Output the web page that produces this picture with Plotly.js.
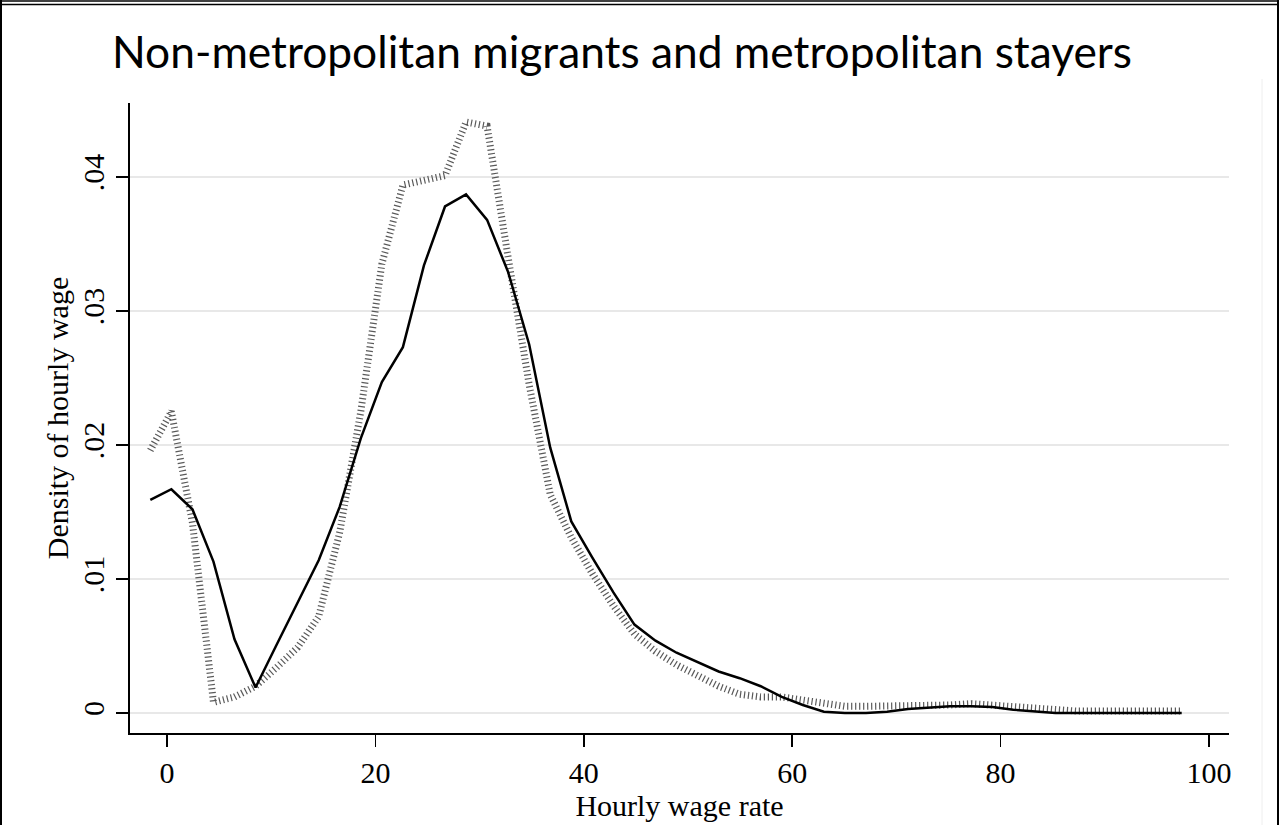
<!DOCTYPE html>
<html>
<head>
<meta charset="utf-8">
<script src="https://cdn.plot.ly/plotly-3.0.1.min.js"></script>
<style>
  html, body { margin: 0; padding: 0; background: #ffffff; }
  #chart { width: 1281px; height: 825px; }
</style>
</head>
<body>
<div id="chart"></div>
<script>
// Evaluation grid of hourly wage (kernel density points)
const wageGrid = [-1.60, 0.42, 2.44, 4.46, 6.48, 8.50, 10.52, 12.54, 14.56, 16.58,
  18.60, 20.62, 22.64, 24.66, 26.68, 28.70, 30.72, 32.74, 34.76, 36.78,
  38.80, 40.82, 42.84, 44.86, 46.88, 48.90, 50.92, 52.94, 54.96, 56.98,
  59.00, 61.02, 63.04, 65.06, 67.08, 69.10, 71.12, 73.14, 75.16, 77.18,
  79.20, 81.22, 83.24, 85.26, 87.28, 89.30, 91.32, 93.34, 95.36, 97.38];

// Solid black line
const densitySolid = [0.0159, 0.0167, 0.0152, 0.0113, 0.0055, 0.0019, 0.0051, 0.0083, 0.0114, 0.0154,
  0.0205, 0.0247, 0.0273, 0.0334, 0.0378, 0.0387, 0.0368, 0.0329, 0.0275, 0.0198,
  0.0143, 0.0116, 0.0090, 0.0066, 0.0054, 0.0045, 0.0038, 0.0031, 0.0026, 0.0020,
  0.0012, 0.0006, 0.0001, 0.0000, 0.0000, 0.0001, 0.0003, 0.0004, 0.0005, 0.0005,
  0.00045, 0.00025, 0.0001, 0.0000, 0.0000, 0.0000, 0.0000, 0.0000, 0.0000, 0.0000];

// Grey hatched line
const densityDotted = [0.0196, 0.0225, 0.0142, 0.0008, 0.0012, 0.0020, 0.0034, 0.0049, 0.0072, 0.0135,
  0.0225, 0.0335, 0.0394, 0.0397, 0.0401, 0.0441, 0.0438, 0.0340, 0.0245, 0.0163,
  0.0131, 0.0104, 0.0080, 0.0059, 0.0046, 0.0036, 0.0028, 0.0020, 0.0014, 0.0012,
  0.0012, 0.0010, 0.0008, 0.0005, 0.0005, 0.0005, 0.0005, 0.0006, 0.0006, 0.0007,
  0.0006, 0.0004, 0.0003, 0.0002, 0.00015, 0.00015, 0.00015, 0.00015, 0.00015, 0.00015];

const xTickVals = [0, 20, 40, 60, 80, 100];
const xTickText = ['0', '20', '40', '60', '80', '100'];
const yTickVals = [0, 0.01, 0.02, 0.03, 0.04];
const yTickText = ['0', '.01', '.02', '.03', '.04'];

const titleText = 'Non-metropolitan migrants and metropolitan stayers';
const xTitle = 'Hourly wage rate';
const yTitle = 'Density of hourly wage';

// pixel -> paper helpers for frame decorations
const L = 130, R = 1229, T = 103, B = 733;
const px = v => (v - L) / (R - L);
const py = v => (B - v) / (B - T);

const traces = [
  {
    x: wageGrid, y: densityDotted, type: 'scatter', mode: 'lines',
    line: { color: '#5a5a5a', width: 7, dash: '1.2px,2.8px' },
    hoverinfo: 'skip', showlegend: false
  },
  {
    x: wageGrid, y: densitySolid, type: 'scatter', mode: 'lines',
    line: { color: '#000000', width: 2.5 },
    hoverinfo: 'skip', showlegend: false
  }
];

const serif = 'Liberation Serif, Times New Roman, serif';

const layout = {
  width: 1281, height: 825,
  paper_bgcolor: '#ffffff', plot_bgcolor: '#ffffff',
  margin: { l: L, r: 1281 - R, t: T, b: 825 - B, pad: 0 },
  showlegend: false,
  title: {
    text: titleText,
    font: { family: 'Lato, Open Sans, sans-serif', size: 44.3, color: '#000000' },
    x: 622 / 1281, xref: 'container', xanchor: 'center',
    y: 1 - 52 / 825, yref: 'container', yanchor: 'middle'
  },
  xaxis: {
    range: [-3.55, 101.92],
    tickvals: xTickVals, ticktext: xTickText,
    showline: true, linecolor: '#000000', linewidth: 1.6,
    ticks: 'outside', ticklen: 12, tickwidth: 1.6, tickcolor: '#000000',
    showgrid: false, zeroline: false,
    tickfont: { family: serif, size: 30, color: '#000000' },
    title: { text: xTitle, font: { family: serif, size: 30, color: '#000000' }, standoff: 4 }
  },
  yaxis: {
    range: [-0.00149, 0.04552],
    tickvals: yTickVals, ticktext: yTickText, tickangle: -90,
    showline: true, linecolor: '#000000', linewidth: 1.6,
    ticks: 'outside', ticklen: 12, tickwidth: 1.6, tickcolor: '#000000',
    showgrid: true, gridcolor: '#e8e8e8', gridwidth: 2,
    zeroline: false,
    tickfont: { family: serif, size: 30, color: '#000000' },
    title: { text: yTitle, font: { family: serif, size: 30, color: '#000000' }, standoff: 0 }
  },
  shapes: [
    { type: 'line', xref: 'paper', yref: 'paper', x0: px(0), x1: px(1279), y0: py(1), y1: py(1), line: { color: '#000', width: 1.5 } },
    { type: 'line', xref: 'paper', yref: 'paper', x0: px(0), x1: px(1279), y0: py(4.5), y1: py(4.5), line: { color: '#000', width: 1.5 } },
    { type: 'line', xref: 'paper', yref: 'paper', x0: px(1), x1: px(1), y0: py(0), y1: py(825), line: { color: '#000', width: 2 } },
    { type: 'line', xref: 'paper', yref: 'paper', x0: px(1278), x1: px(1278), y0: py(0), y1: py(825), line: { color: '#000', width: 2 } },
    { type: 'line', xref: 'paper', yref: 'paper', x0: px(1262), x1: px(1262), y0: py(79), y1: py(825), line: { color: '#eeeeee', width: 1 } }
  ]
};

Plotly.newPlot('chart', traces, layout, { staticPlot: true, displayModeBar: false });
</script>
</body>
</html>
